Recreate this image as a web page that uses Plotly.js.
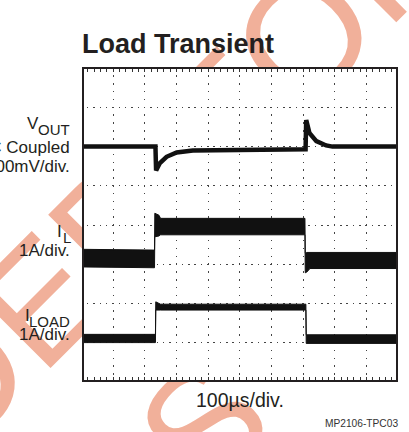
<!DOCTYPE html>
<html><head><meta charset="utf-8">
<script src="https://cdn.plot.ly/plotly-3.0.1.min.js"></script>
<style>
html,body{margin:0;padding:0;background:#fff;}
#wrap{position:relative;width:409px;height:432px;overflow:hidden;}
#wm{position:absolute;left:0;top:0;z-index:0;}
#chart{position:absolute;left:0;top:0;width:409px;height:432px;z-index:1;}
</style></head><body>
<div id="wrap">
<svg id="wm" width="409" height="432" viewBox="0 0 409 432">
 <g transform="rotate(-45)" font-family="Liberation Sans, Arial, sans-serif" font-size="160" fill="#f1b09a">
  <text x="-237.6" y="296" text-anchor="end">NOT RECOMMEND</text>
  <text x="-237.6" y="296">ED FOR</text>
  <text x="-103.3" y="500" text-anchor="end">NEW DESIGNS</text>
 </g>
</svg>
<div id="chart"></div>
</div>
<script>
// ---- data (time in µs, 100µs/div; amplitude in screen divisions) ----
const voutTime = [0, 234, 236, 248, 269, 301, 352, 500, 708, 710, 720, 742, 773, 793, 1000];
const voutDiv  = [6.0, 6.0, 5.39, 5.58, 5.74, 5.85, 5.90, 5.91, 5.93, 6.68, 6.35, 6.14, 6.03, 6.0, 6.0];

const ilTime  = [0, 231, 232, 245, 250, 706, 707, 712, 722, 1000];
const ilUpper = [3.38, 3.36, 4.30, 4.25, 4.17, 4.17, 3.28, 3.30, 3.30, 3.30];
const ilLower = [2.93, 2.91, 3.70, 3.72, 3.75, 3.75, 2.78, 2.80, 2.89, 2.89];

const loadTime  = [0, 234, 235, 250, 709, 710, 1000];
const loadUpper = [1.21, 1.21, 2.04, 1.98, 1.98, 1.20, 1.20];
const loadLower = [1.00, 1.00, 1.83, 1.83, 1.83, 0.98, 0.98];

const titleText = "Load Transient";
const voutLabel = ["V", "OUT", "AC Coupled", "100mV/div."];
const ilLabel   = ["I", "L", "1A/div."];
const loadLabel = ["I", "LOAD", "1A/div."];
const timeLabel = "100µs/div.";
const figId     = "MP2106-TPC03";

// ---- layout geometry ----
const L = 84, T = 69, W = 312, H = 311;
const FONT = "Liberation Sans, Arial, Helvetica, sans-serif";
const INK = "#231f20";

function band(t, up, lo, name) {
  return {
    x: t.concat(t.slice().reverse()),
    y: up.concat(lo.slice().reverse()),
    mode: "lines", fill: "toself", fillcolor: "#111",
    line: {color: "#111", width: 1},
    hoverinfo: "skip", showlegend: false, name: name
  };
}

const traces = [
  band(loadTime, loadUpper, loadLower, "ILOAD"),
  band(ilTime, ilUpper, ilLower, "IL"),
  {x: voutTime, y: voutDiv, mode: "lines", line: {color: "#111", width: 4.5},
   hoverinfo: "skip", showlegend: false, name: "VOUT"}
];

function ann(text, px, pyBase, size, xanchor, color) {
  return {
    xref: "paper", yref: "paper",
    x: (px - L) / W,
    y: (T + H - (pyBase - 0.3465 * size)) / H,
    xanchor: xanchor || "right", yanchor: "middle",
    text: text, showarrow: false, borderpad: 0,
    font: {family: FONT, size: size, color: color || INK}
  };
}

const annotations = [
  ann(voutLabel[0], 39.8, 129.3, 17),
  ann(voutLabel[1], 71, 135, 15),
  ann(voutLabel[2], 71, 153.3, 17),
  ann(voutLabel[3], 71, 172.7, 17),
  ann(ilLabel[0], 63.3, 237.3, 17),
  ann(ilLabel[1], 71.5, 242.7, 15),
  ann(ilLabel[2], 71, 256.7, 17),
  ann(loadLabel[0], 31, 321, 17),
  ann(loadLabel[1], 71, 326.7, 15),
  ann(loadLabel[2], 71, 340, 17),
  ann(timeLabel, 239.7, 406.7, 19.5, "center"),
  ann(figId, 398.5, 427.3, 10.2, "right", "#333")
];

const layout = {
  width: 409, height: 432,
  margin: {l: L, r: 409 - L - W, t: T, b: 432 - T - H, pad: 0},
  paper_bgcolor: "rgba(0,0,0,0)",
  plot_bgcolor: "#ffffff",
  showlegend: false,
  title: {
    text: titleText,
    font: {family: FONT, size: 27, color: INK, weight: "bold"},
    xref: "container", yref: "container",
    x: 82 / 409, xanchor: "left",
    y: 1 - 52.5 / 432, yanchor: "bottom"
  },
  xaxis: {
    range: [8.4, 993.5], fixedrange: true,
    tickmode: "linear", tick0: 0, dtick: 100,
    showticklabels: false,
    ticks: "inside", ticklen: 3, tickwidth: 1, tickcolor: "#333",
    showline: true, linecolor: INK, linewidth: 2, mirror: "ticks",
    showgrid: true, gridcolor: "#444", gridwidth: 1,
    griddash: "0px,6.29px,1.5px,0.05px",
    zeroline: false,
    minor: {tick0: 0, dtick: 20, ticks: "inside", ticklen: 3, tickwidth: 1,
            tickcolor: "#333", showgrid: false}
  },
  yaxis: {
    range: [0.046, 7.98], fixedrange: true,
    tickmode: "linear", tick0: 0, dtick: 1,
    showticklabels: false, ticks: "",
    showline: true, linecolor: INK, linewidth: 2, mirror: true,
    showgrid: true, gridcolor: "#444", gridwidth: 1,
    griddash: "0px,2.88px,1.5px,1.95px",
    zeroline: false
  },
  annotations: annotations
};

Plotly.newPlot("chart", traces, layout, {staticPlot: true, displayModeBar: false});
</script>
</body></html>
